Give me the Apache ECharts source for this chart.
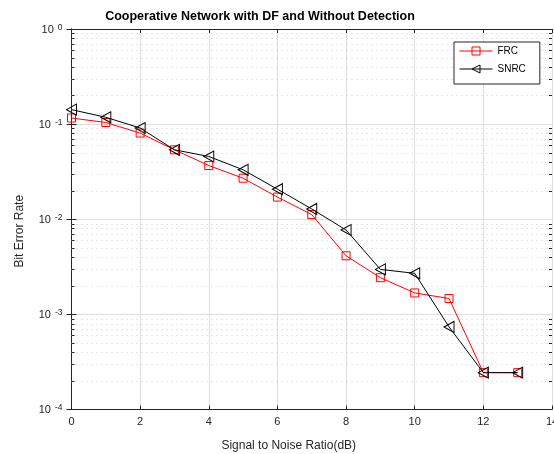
<!DOCTYPE html>
<html>
<head>
<meta charset="utf-8">
<script src="https://cdn.jsdelivr.net/npm/echarts@6/dist/echarts.min.js"></script>
<style>
  html, body { margin: 0; padding: 0; background: #fff; }
  #chart { width: 554px; height: 454px; }
</style>
</head>
<body>
<div id="chart"></div>
<script>
// SNR points (dB)
const snr = [0, 1, 2, 3, 4, 5, 6, 7, 8, 9, 10, 11, 12, 13]
// bit error rates
const frc = [0.116, 0.104, 0.0806, 0.0537, 0.0367, 0.0270, 0.0171, 0.0112, 0.00413, 0.00243, 0.00168, 0.00147, 0.000244, 0.000244]
const snrcBer = [0.142, 0.118, 0.091, 0.0537, 0.0457, 0.0331, 0.0207, 0.01284, 0.00771, 0.00297, 0.00270, 0.000738, 0.000244, 0.000244]
// minor grid values of the log axis (2..9 per decade)
const minorGrid = [
  0.0002, 0.0003, 0.0004, 0.0005, 0.0006, 0.0007, 0.0008, 0.0009,
  0.002, 0.003, 0.004, 0.005, 0.006, 0.007, 0.008, 0.009,
  0.02, 0.03, 0.04, 0.05, 0.06, 0.07, 0.08, 0.09,
  0.2, 0.3, 0.4, 0.5, 0.6, 0.7, 0.8, 0.9
]

const axisColor = '#262626'
const font = 'Liberation Sans, Arial, sans-serif'

const chart = echarts.init(document.getElementById('chart'))

const option = {
  animation: false,
  backgroundColor: '#fff',
  title: {
    text: 'Cooperative Network with DF and Without Detection',
    left: 255,
    top: 5,
    textAlign: 'center',
    textStyle: { fontFamily: font, fontSize: 12.5, fontWeight: 'bold', color: '#000' }
  },
  legend: {
    data: ['FRC', 'SNRC'],
    orient: 'vertical',
    left: 454,
    top: 42,
    itemWidth: 33,
    itemHeight: 10,
    itemGap: 8,
    padding: [4, 14, 10, 5],
    borderColor: axisColor,
    borderWidth: 1,
    backgroundColor: '#fff',
    lineStyle: { width: 1 },
    itemStyle: { borderWidth: 1 },
    textStyle: { fontFamily: font, fontSize: 10, color: '#000' }
  },
  grid: { left: 71.5, right: 2, top: 29, bottom: 44.5, outerBoundsMode: 'none', containLabel: false },
  xAxis: [
    {
      type: 'value',
      min: 0,
      max: 14,
      interval: 2,
      name: 'Signal to Noise Ratio(dB)',
      nameLocation: 'middle',
      nameGap: 30,
      nameTextStyle: { fontFamily: font, fontSize: 12, color: axisColor, padding: [0, 46, 0, 0] },
      axisLine: { show: true, lineStyle: { color: axisColor } },
      axisTick: { show: true, inside: true, length: 4, lineStyle: { color: axisColor } },
      axisLabel: { fontFamily: font, fontSize: 11, color: axisColor, margin: 7, showMaxLabel: true, alignMaxLabel: 'center' },
      splitLine: { show: true, lineStyle: { color: '#dedede' } }
    },
    {
      type: 'value',
      position: 'top',
      min: 0,
      max: 14,
      interval: 2,
      axisLine: { show: true, lineStyle: { color: axisColor } },
      axisTick: { show: true, inside: true, length: 4, lineStyle: { color: axisColor } },
      axisLabel: { show: false },
      splitLine: { show: false }
    }
  ],
  yAxis: [
    {
      type: 'log',
      logBase: 10,
      min: 0.0001,
      max: 1,
      name: 'Bit Error Rate',
      nameLocation: 'middle',
      nameGap: 46,
      nameTextStyle: { fontFamily: font, fontSize: 12, color: axisColor, padding: [0, 24, 0, 0] },
      axisLine: { show: true, lineStyle: { color: axisColor } },
      axisTick: { show: true, inside: true, length: 5, lineStyle: { color: axisColor } },
      axisLabel: {
        margin: 9,
        formatter: function (v) {
          const e = Math.round(Math.log10(v))
          return '{b|10}{s|' + e + '}'
        },
        rich: {
          b: { fontFamily: font, fontSize: 11, color: axisColor, lineHeight: 12, padding: [8, 0, 0, 0], verticalAlign: 'bottom' },
          s: { fontFamily: font, fontSize: 8.5, color: axisColor, lineHeight: 9, padding: [0, 0, 0, 4], verticalAlign: 'top' }
        }
      },
      splitLine: { show: true, lineStyle: { color: '#dedede' } }
    },
    {
      type: 'log',
      logBase: 10,
      min: 0.0001,
      max: 1,
      position: 'right',
      axisLine: { show: true, lineStyle: { color: axisColor } },
      axisTick: { show: true, inside: true, length: 5, lineStyle: { color: axisColor } },
      axisLabel: { show: false },
      splitLine: { show: false }
    }
  ],
  series: [
    {
      // dotted minor grid + small minor ticks on both sides
      type: 'custom',
      silent: true,
      z: 1,
      xAxisIndex: 0,
      yAxisIndex: 0,
      data: minorGrid.map(v => [0, v]),
      renderItem: function (params, api) {
        const y = Math.round(api.coord([0, api.value(1)])[1]) + 0.5
        const cs = params.coordSys
        return {
          type: 'group',
          children: [
            {
              type: 'line',
              shape: { x1: cs.x, y1: y, x2: cs.x + cs.width, y2: y },
              style: { stroke: '#cfcfcf', lineWidth: 1, lineDash: [1, 4] }
            },
            {
              type: 'line',
              shape: { x1: cs.x, y1: y, x2: cs.x + 3, y2: y },
              style: { stroke: axisColor, lineWidth: 1 }
            },
            {
              type: 'line',
              shape: { x1: cs.x + cs.width - 3, y1: y, x2: cs.x + cs.width, y2: y },
              style: { stroke: axisColor, lineWidth: 1 }
            }
          ]
        }
      }
    },
    {
      name: 'FRC',
      type: 'line',
      z: 3,
      data: snr.map((x, i) => [x, frc[i]]),
      symbol: 'rect',
      symbolSize: 8,
      lineStyle: { color: '#ff0000', width: 1 },
      itemStyle: { color: 'rgba(255,255,255,0)', borderColor: '#ff0000', borderWidth: 1 }
    },
    {
      name: 'SNRC',
      type: 'line',
      z: 4,
      data: snr.map((x, i) => [x, snrcBer[i]]),
      symbol: 'triangle',
      symbolRotate: 90,
      symbolSize: [11, 10],
      lineStyle: { color: '#000000', width: 1 },
      itemStyle: { color: 'rgba(255,255,255,0)', borderColor: '#000000', borderWidth: 1 }
    }
  ]
}

chart.setOption(option)
</script>
</body>
</html>
